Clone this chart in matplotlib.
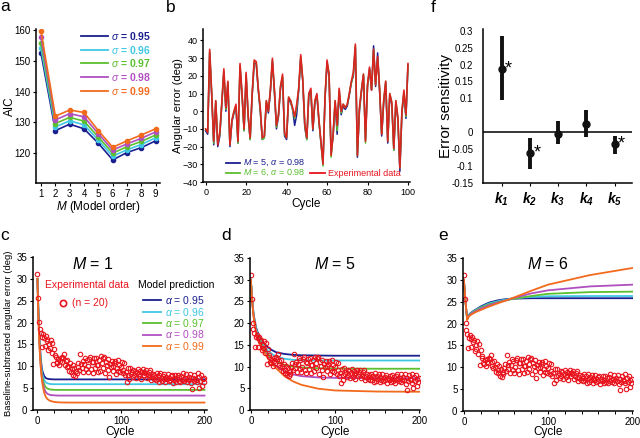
import matplotlib
matplotlib.use('Agg')
import matplotlib.pyplot as plt
from matplotlib.lines import Line2D
from matplotlib.ticker import MultipleLocator

plt.rcParams['font.family'] = ['Liberation Sans', 'DejaVu Sans']
plt.rcParams['mathtext.fontset'] = 'custom'
plt.rcParams['mathtext.rm'] = 'Liberation Sans'
plt.rcParams['mathtext.it'] = 'Liberation Sans:italic'
plt.rcParams['mathtext.bf'] = 'Liberation Sans:style=italic:weight=bold'

# ---------------- data ----------------
# panel a: AIC vs model order
model_order = [1, 2, 3, 4, 5, 6, 7, 8, 9]
sigma_labels = ['0.95', '0.96', '0.97', '0.98', '0.99']
aic_095 = [152.4, 127.3, 129.4, 127.9, 123.2, 117.8, 120.2, 121.8, 124.0]
aic_096 = [154.0, 128.5, 130.5, 129.2, 124.2, 119.0, 121.1, 122.8, 125.0]
aic_097 = [155.7, 129.6, 131.6, 130.4, 125.2, 120.0, 122.1, 123.8, 125.9]
aic_098 = [157.6, 130.8, 132.8, 131.8, 126.3, 121.0, 123.0, 124.8, 126.9]
aic_099 = [159.5, 132.0, 134.0, 133.2, 127.3, 121.9, 124.0, 125.9, 127.9]

# panel b: angular error time series (cycles 0..100)
cycles_b = list(range(101))
exp_err = [-10, -12, 35, 10, -17, 6, -19, -12, 5, 24,
           2, 17, -19, -5, 0, 4, -17, 27, 10, -10,
           22, -2, -15, 10, 29, 28, 13, 2, -15, -14,
           6, 0, 12, 30, 12, -8, -2, 14, 21, -12,
           -15, 8, 6, 2, -3, 4, 13, 32, 18, -7,
           -15, 10, 13, -10, 6, 10, -5, -17, -30, 8,
           29, 21, -25, -13, 6, -8, 13, 0, 4, 2,
           4, 10, 17, 22, 38, -25, 2, 12, 21, -17,
           15, 25, 12, 35, 15, 31, 12, -13, 6, 17,
           -17, 10, 5, -21, 6, -3, -32, 0, 12, -2,
           27]
m5_err = [-11, -13, 33, 9, -19, 5, -20, -14, 4, 22,
          0, 16, -20, -6, -1, 2, -18, 25, 9, -11,
          20, -3, -16, 9, 27, 27, 12, 0, -16, -15,
          5, -1, 11, 28, 11, -10, -3, 13, 19, -14,
          -16, 7, 5, 1, -8, -2, 12, 30, 17, -9,
          -16, 9, 11, -11, 5, 9, -6, -18, -29, 7,
          27, 20, -24, -14, 5, -13, 11, -2, 3, 1,
          3, 9, 16, 20, 36, -26, 0, 11, 20, -16,
          14, 24, 12, 37, 14, 33, 11, -14, 5, 16,
          -18, 9, 4, -22, 5, -5, -34, -1, 10, -4,
          26]
m6_err = [-10, -12, 34, 10, -18, 6, -18, -13, 5, 23,
          1, 16, -19, -5, 0, 3, -18, 26, 9, -11,
          21, -2, -16, 10, 28, 28, 13, 1, -16, -15,
          6, 0, 12, 29, 11, -9, -2, 14, 20, -13,
          -15, 8, 6, 1, -4, 2, 13, 31, 18, -8,
          -16, 10, 12, -10, 6, 9, -5, -18, -31, 8,
          28, 21, -26, -13, 6, -11, 12, -1, 4, 2,
          4, 10, 16, 21, 37, -25, 1, 12, 21, -18,
          15, 24, 12, 35, 15, 30, 12, -13, 6, 17,
          -17, 10, 5, -22, 6, -4, -32, 0, 11, -3,
          26]

# panels c-e: experimental data (cycles 0..200)
cycles_exp = list(range(201))
exp_data = [31.0, 25.6, 20.1, 18.6, 17.7, 14.5, 16.8, 17.3, 16.5, 14.6,
            16.9, 15.8, 16.2, 13.8, 15.0, 14.2, 15.9, 13.1, 15.4, 10.6,
            14.0, 12.6, 12.1, 11.0, 10.8, 11.6, 10.2, 11.3, 11.9, 10.9,
            12.1, 11.8, 12.8, 10.4, 11.2, 9.8, 11.5, 10.1, 9.0, 10.7,
            8.6, 9.3, 10.2, 8.1, 9.7, 7.8, 8.9, 8.4, 9.9, 10.8,
            9.1, 12.9, 10.5, 9.6, 11.1, 8.7, 10.6, 12.0, 9.4, 11.4,
            8.8, 10.0, 11.7, 12.2, 9.3, 11.0, 8.5, 10.9, 11.8, 9.5,
            12.0, 10.4, 8.6, 10.3, 11.5, 9.0, 12.3, 10.8, 9.7, 11.9,
            12.1, 8.4, 11.0, 10.2, 9.1, 11.6, 7.6, 10.5, 9.8, 11.3,
            10.1, 8.9, 10.7, 11.2, 8.2, 9.6, 11.4, 9.0, 10.3, 8.7,
            9.9, 11.0, 8.4, 9.2, 10.8, 7.9, 8.6, 6.3, 9.5, 8.1,
            7.0, 9.6, 8.3, 8.8, 7.5, 9.2, 8.0, 8.9, 7.4, 8.5,
            9.4, 7.7, 8.2, 9.0, 7.1, 8.6, 9.3, 7.9, 8.7, 8.4,
            9.1, 7.3, 8.0, 8.8, 7.6, 9.2, 6.9, 7.8, 8.3, 7.2,
            8.1, 7.5, 6.8, 8.4, 7.0, 7.9, 6.4, 8.5, 7.3, 6.7,
            7.8, 7.1, 8.3, 6.5, 7.6, 7.0, 8.2, 6.6, 7.4, 6.9,
            7.7, 8.1, 6.2, 7.3, 6.8, 7.9, 6.5, 7.2, 8.0, 6.7,
            7.5, 6.3, 7.8, 6.9, 8.4, 7.1, 6.6, 7.4, 8.2, 6.4,
            7.0, 7.6, 6.8, 8.3, 6.1, 4.7, 7.3, 6.6, 8.1, 7.2,
            6.9, 6.3, 8.4, 5.0, 7.5, 6.7, 8.0, 5.6, 7.1, 6.5,
            7.4]

# panel c: M = 1 model predictions
cyc_c = [0, 1, 2, 3, 4, 5, 6, 8, 10, 12, 15, 20, 25, 30, 40, 60, 100, 150, 200]
c_095 = [30, 24.0, 18.5, 14.5, 11.8, 10.0, 8.9, 7.8, 7.3, 7.15, 7.05, 7.0, 7.0, 7.0, 7.0, 7.0, 7.0, 7.0, 7.0]
c_096 = [30, 23.5, 18.0, 14.0, 11.2, 9.3, 8.1, 6.9, 6.3, 6.1, 5.95, 5.9, 5.9, 5.9, 5.9, 5.9, 5.9, 5.9, 5.9]
c_097 = [30, 23.0, 17.5, 13.5, 10.6, 8.6, 7.3, 5.9, 5.2, 4.9, 4.7, 4.62, 4.6, 4.6, 4.6, 4.6, 4.6, 4.6, 4.6]
c_098 = [30, 22.5, 17.0, 13.0, 10.1, 8.0, 6.6, 4.9, 4.1, 3.7, 3.45, 3.35, 3.3, 3.3, 3.3, 3.3, 3.3, 3.3, 3.3]
c_099 = [30, 22.0, 16.5, 12.5, 9.6, 7.5, 6.0, 4.0, 3.0, 2.5, 2.1, 1.85, 1.75, 1.72, 1.7, 1.7, 1.7, 1.7, 1.7]

# panel d: M = 5 model predictions
cyc_d = [0, 1, 2, 3, 5, 7, 10, 15, 20, 25, 30, 40, 50, 60, 80, 100, 150, 200]
d_095 = [30, 27.0, 24.5, 22.5, 20.0, 18.5, 17.0, 15.5, 14.5, 13.8, 13.3, 12.9, 12.7, 12.6, 12.55, 12.5, 12.5, 12.5]
d_096 = [30, 27.0, 24.5, 22.5, 19.8, 18.2, 16.6, 14.9, 13.7, 12.9, 12.3, 11.8, 11.55, 11.45, 11.4, 11.4, 11.4, 11.4]
d_097 = [30, 27.0, 24.4, 22.3, 19.6, 17.9, 16.2, 14.3, 12.9, 11.9, 11.2, 10.4, 10.0, 9.8, 9.6, 9.55, 9.5, 9.5]
d_098 = [30, 26.8, 24.2, 22.1, 19.4, 17.6, 15.8, 13.7, 12.2, 11.0, 10.1, 8.9, 8.2, 7.8, 7.5, 7.4, 7.3, 7.3]
d_099 = [30, 26.7, 24.0, 21.8, 19.0, 17.2, 15.4, 13.5, 12.0, 10.7, 9.6, 7.8, 6.6, 5.8, 4.9, 4.5, 4.25, 4.2]

# panel e: M = 6 model predictions
cyc_e = [0, 1, 2, 3, 4, 5, 7, 10, 15, 20, 30, 40, 50, 60, 80, 100, 150, 200]
e_095 = [30, 27.5, 25.0, 22.8, 21.0, 21.6, 22.2, 22.7, 23.3, 23.9, 24.8, 25.3, 25.6, 25.7, 25.8, 25.8, 25.8, 25.8]
e_096 = [30, 27.5, 25.0, 22.8, 21.0, 21.6, 22.1, 22.6, 23.2, 23.7, 24.6, 25.1, 25.5, 25.8, 26.1, 26.25, 26.3, 26.3]
e_097 = [30, 27.5, 25.0, 22.8, 21.0, 21.5, 22.0, 22.5, 23.1, 23.6, 24.4, 24.9, 25.3, 25.7, 26.3, 26.8, 27.2, 27.3]
e_098 = [30, 27.5, 25.0, 22.8, 21.0, 21.5, 21.9, 22.4, 22.9, 23.4, 24.2, 24.8, 25.3, 25.9, 26.9, 27.6, 28.5, 28.9]
e_099 = [30, 27.5, 25.0, 22.8, 20.8, 21.4, 21.8, 22.2, 22.7, 23.1, 23.9, 24.6, 25.3, 26.0, 27.5, 28.9, 31.1, 32.7]

# panel f: error sensitivity
k_labels = [r'$\mathbf{k_1}$', r'$\mathbf{k_2}$', r'$\mathbf{k_3}$', r'$\mathbf{k_4}$', r'$\mathbf{k_5}$']
k_mean = [0.188, -0.061, -0.004, 0.025, -0.036]
k_low = [0.094, -0.108, -0.036, -0.015, -0.064]
k_high = [0.284, -0.016, 0.033, 0.065, -0.010]
k_signif = [True, True, False, False, True]
f_yticks = [0.3, 0.25, 0.2, 0.15, 0.1, 0, -0.05, -0.1, -0.15]
f_yticklabels = ['0.3', '0.25', '0.2', '0.15', '0.1', '0', '-0.05', '-0.1', '-0.15']

# ---------------- style ----------------
NAVY = '#1b1f8f'
CYAN = '#3fc8e4'
GREEN = '#5cbf2f'
PURPLE = '#b04fbf'
ORANGE = '#f26a1b'
RED = '#e8141e'
alpha_colors = [NAVY, CYAN, GREEN, PURPLE, ORANGE]

W, H = 640, 438
fig = plt.figure(figsize=(6.4, 4.38), dpi=100)


def ax_px(l, t, r, b):
    return fig.add_axes([l / W, 1 - b / H, (r - l) / W, (b - t) / H])


def fx(px):
    return px / W


def fy(py):
    return 1 - py / H


def style(ax, labelsize=7):
    for s in ['top', 'right']:
        ax.spines[s].set_visible(False)
    for s in ['left', 'bottom']:
        ax.spines[s].set_linewidth(1.1)
    ax.tick_params(labelsize=labelsize, length=2.5, width=0.8, direction='out', pad=1.5)
    ax.tick_params(which='minor', length=2, width=0.7)


def hline(x0, x1, y, color, lw=1.3):
    fig.add_artist(Line2D([fx(x0), fx(x1)], [fy(y), fy(y)], color=color, lw=lw))


def place_ylabel(ax, text, right_px, size):
    ax.set_ylabel(text, fontsize=size)
    l, b, w, h = ax.get_position().bounds
    ax.yaxis.set_label_coords((right_px / W - l) / w, 0.5)


def place_xlabel(ax, text, top_px, size):
    ax.set_xlabel(text, fontsize=size)
    l, b, w, h = ax.get_position().bounds
    ax.xaxis.set_label_coords(0.5, ((1 - top_px / H) - b) / h)


# panel letters
for lab, x, y in [('a', 0, 11), ('b', 166, 12), ('f', 431, 12), ('c', 0, 240), ('d', 221, 240), ('e', 438, 240)]:
    fig.text(fx(x), fy(y), lab, fontsize=12.5, va='baseline', ha='left')

# ---------------- panel a ----------------
axa = ax_px(36, 29, 160, 183)
style(axa)
for vals, col in zip([aic_095, aic_096, aic_097, aic_098, aic_099], alpha_colors):
    axa.plot(model_order, vals, '-o', color=col, lw=1.2, ms=3)
axa.set_xlim(0.65, 9.3)
axa.set_ylim(110.3, 160.3)
axa.set_yticks([120, 130, 140, 150, 160])
axa.set_xticks(model_order)
place_ylabel(axa, 'AIC', 16, 8.5)
place_xlabel(axa, r'$M$ (Model order)', 199, 8.5)
for i, (lab, col) in enumerate(zip(sigma_labels, alpha_colors)):
    yy = 35.7 + i * 13.8
    hline(81, 108, yy, col)
    fig.text(fx(111), fy(yy), r'$\sigma$ = ' + lab, color=col, fontsize=7.5,
             fontweight='bold', va='center')

# ---------------- panel b ----------------
axb = ax_px(203, 29, 410, 182)
style(axb, labelsize=6.5)
axb.plot(cycles_b, m5_err, color=NAVY, lw=1.1)
axb.plot(cycles_b, m6_err, color=GREEN, lw=1.1)
axb.plot(cycles_b, exp_err, color=RED, lw=1.2, alpha=0.9)
axb.set_xlim(-1.3, 101)
axb.set_ylim(-40, 46.5)
axb.set_yticks(range(-40, 41, 10))
axb.set_xticks(range(0, 101, 20))
place_ylabel(axb, 'Angular error (deg)', 183, 8)
place_xlabel(axb, 'Cycle', 198, 8.5)
hline(226, 240, 163, NAVY)
fig.text(fx(243), fy(163), r'$M$ = 5, $\alpha$ = 0.98', color=NAVY, fontsize=6.5, va='center')
hline(226, 240, 173, GREEN)
fig.text(fx(243), fy(173), r'$M$ = 6, $\alpha$ = 0.98', color=GREEN, fontsize=6.5, va='center')
hline(310, 325, 173, RED)
fig.text(fx(328), fy(173), 'Experimental data', color=RED, fontsize=6.5, va='center')

# ---------------- panel f ----------------
axf = ax_px(483, 29, 632, 183)
style(axf)
xs = list(range(1, 6))
axf.axhline(0, color='black', lw=1.1)
axf.vlines(xs, k_low, k_high, color='#111111', lw=2.8)
axf.plot(xs, k_mean, 'o', color='#111111', ms=5)
for x, m, s in zip(xs, k_mean, k_signif):
    if s:
        axf.text(x + 0.12, m, '*', fontsize=13, va='center', ha='left')
axf.set_xlim(0.34, 5.62)
axf.set_ylim(-0.15, 0.305)
axf.set_yticks(f_yticks)
axf.set_yticklabels(f_yticklabels)
axf.set_xticks(xs)
axf.set_xticklabels(k_labels, fontsize=10)
axf.tick_params(axis='y', length=0, pad=7)
axf.tick_params(axis='x', pad=3)
place_ylabel(axf, 'Error sensitivity', 453, 11)

# ---------------- panels c, d, e ----------------
def curve_panel(ax, cyc, curves, xlim):
    style(ax)
    for vals, col in zip(curves, alpha_colors):
        ax.plot(cyc, vals, color=col, lw=1.3)
    ax.plot(cycles_exp, exp_data, 'o', mfc='none', mec=RED, ms=3.2, mew=0.8)
    ax.set_xlim(*xlim)
    ax.set_ylim(0, 35)
    ax.set_yticks(range(0, 36, 5))
    ax.set_xticks([0, 100, 200])
    ax.xaxis.set_minor_locator(MultipleLocator(20))
    place_xlabel(ax, 'Cycle', 426.5, 8.5)


axc = ax_px(33, 257, 207, 410)
curve_panel(axc, cyc_c, [c_095, c_096, c_097, c_098, c_099], (-5.3, 203))
place_ylabel(axc, 'Baseline-subtracted angular error (deg)', 13, 6.8)
fig.text(fx(93), fy(264), r'$M$ = 1', fontsize=11.5, ha='center', va='center')
fig.text(fx(45), fy(285), 'Experimental data', color=RED, fontsize=7.5, va='center')
fig.add_artist(Line2D([fx(63)], [fy(303)], marker='o', mfc='none', mec=RED, ms=4.5, mew=1.2))
fig.text(fx(72), fy(303), '(n = 20)', color=RED, fontsize=7.5, va='center')
fig.text(fx(138), fy(285), 'Model prediction', color='black', fontsize=7.5, va='center')
for i, (lab, col) in enumerate(zip(sigma_labels, alpha_colors)):
    yy = 300 + i * 11.5
    hline(143, 161, yy, col)
    fig.text(fx(165), fy(yy), r'$\alpha$ = ' + lab, color=col, fontsize=7.5, va='center')

axd = ax_px(250, 258, 420, 410)
curve_panel(axd, cyc_d, [d_095, d_096, d_097, d_098, d_099], (-1, 201))
fig.text(fx(335), fy(264), r'$M$ = 5', fontsize=11.5, ha='center', va='center')

axe = ax_px(463, 258, 633, 411)
curve_panel(axe, cyc_e, [e_095, e_096, e_097, e_098, e_099], (-1, 201))
fig.text(fx(548), fy(264), r'$M$ = 6', fontsize=11.5, ha='center', va='center')

fig.savefig('out.png', dpi=100)
